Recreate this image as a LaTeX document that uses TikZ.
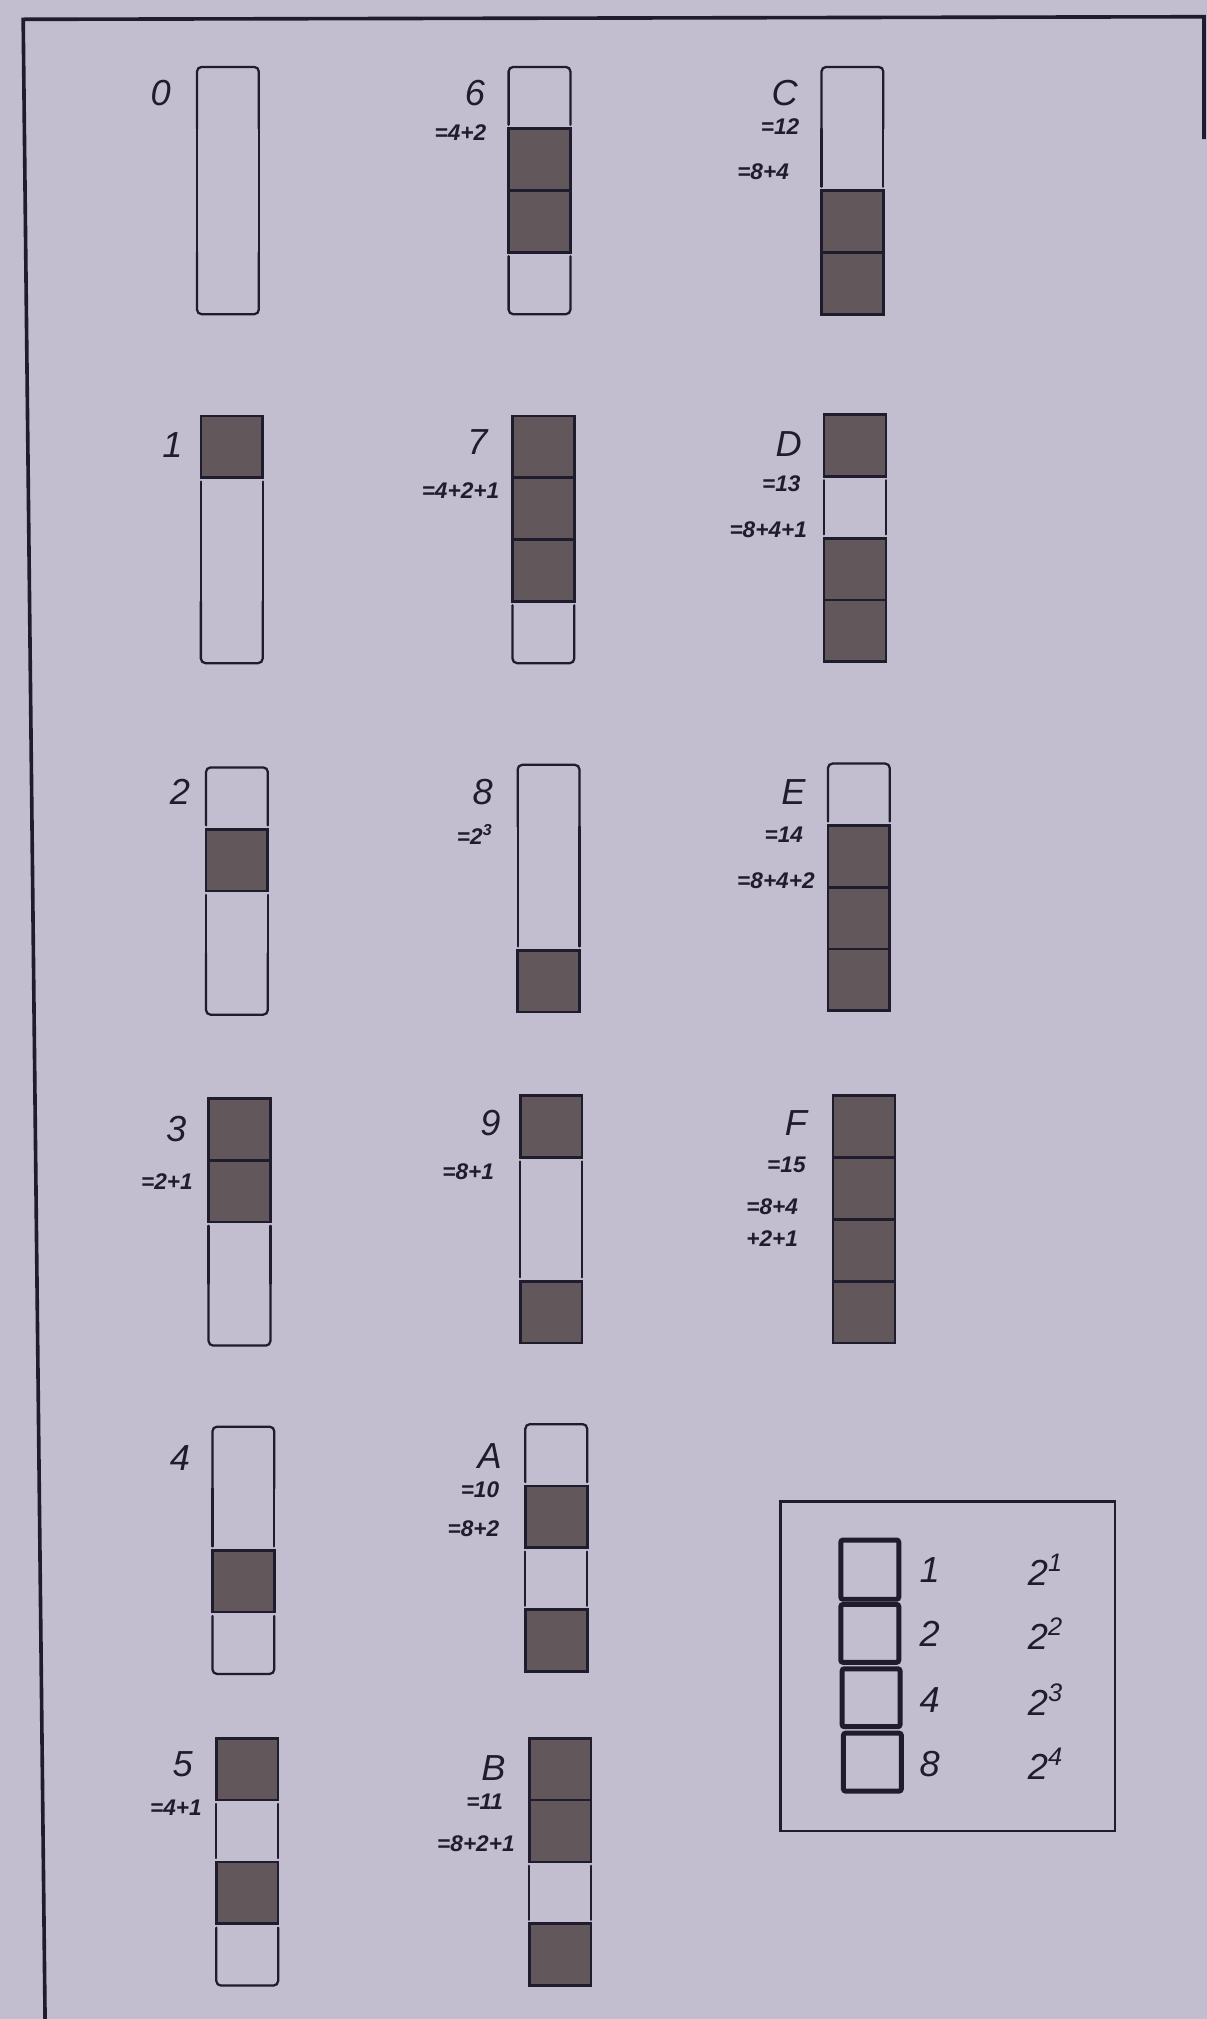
\documentclass[tikz,border=0pt]{standalone}
\usepackage{fontspec}
\setmainfont{Liberation Sans}
\usetikzlibrary{positioning}
\definecolor{paper}{HTML}{C2BECF}
\definecolor{ink}  {HTML}{1F1C2E}
\definecolor{grain}{HTML}{62585C}
\tikzset{
  frame/.style  = {draw=ink, line width=1.6pt},
  bitset/.style = {fill=grain, draw=ink, line width=1.2pt},
  bitoff/.style = {draw=ink, line width=1pt, rounded corners=2pt, line cap=round},
  digit/.style  = {font=\fontsize{16}{16}\selectfont\itshape, text=ink,
                   anchor=east, inner sep=0pt},
  sum/.style    = {font=\fontsize{10}{10}\selectfont\bfseries\itshape, text=ink,
                   anchor=east, inner sep=0pt},
  key/.style    = {draw=ink, line width=2.2pt, rounded corners=1pt},
  keytxt/.style = {font=\fontsize{16}{16}\selectfont\itshape, text=ink, inner sep=0pt},
}
\newcommand{\cellh}{48}
\newcommand{\cellw}{48}
\newcommand{\cellgap}{3}
% one cell of a bar: x, y of bar top, index, prev, this, next (2 = end of bar)
\newcommand{\bitcell}[6]{%
  \pgfmathsetmacro{\bya}{#2+#3*\cellh}%
  \pgfmathsetmacro{\byb}{\bya+\cellh}%
  \pgfmathsetmacro{\bxb}{#1+\cellw}%
  \ifnum#5=1
    \filldraw[bitset] (#1,\bya) rectangle (\bxb,\byb);
  \else
    \ifnum#4=1 \pgfmathsetmacro{\bys}{\bya+\cellgap}\else\let\bys\bya\fi
    \ifnum#6=1 \pgfmathsetmacro{\bye}{\byb-\cellgap}\else\let\bye\byb\fi
    \ifnum#4=2
      \draw[bitoff] (#1,\bye) -- (#1,\bya) -- (\bxb,\bya) -- (\bxb,\bye);
    \else\ifnum#6=2
      \draw[bitoff] (#1,\bys) -- (#1,\byb) -- (\bxb,\byb) -- (\bxb,\bys);
    \else
      \draw[bitoff] (#1,\bys) -- (#1,\bye) (\bxb,\bys) -- (\bxb,\bye);
    \fi\fi
  \fi}
% a bar of four cells: x, y, bits 1 2 4 8
\newcommand{\bitbar}[6]{%
  \bitcell{#1}{#2}{0}{2}{#3}{#4}
  \bitcell{#1}{#2}{1}{#3}{#4}{#5}
  \bitcell{#1}{#2}{2}{#4}{#5}{#6}
  \bitcell{#1}{#2}{3}{#5}{#6}{2}}

\begin{document}
\begin{tikzpicture}[x=0.02cm, y=-0.02cm]

  \fill[paper] (0,0) rectangle (937,1568);
  \useasboundingbox (0,0) rectangle (937,1568);

  % frame
  \draw[frame] (35,1568) -- (18,15) -- (935,13) -- (935,108);

  % first column
  \bitbar{153}{52}{0}{0}{0}{0}
  \node[digit] (l0) at (133,72) {0};
  \bitbar{156}{323}{1}{0}{0}{0}
  \node[digit] (l1) at (142,346) {1};
  \bitbar{160}{596}{0}{1}{0}{0}
  \node[digit] (l2) at (148,615) {2};
  \bitbar{162}{853}{1}{1}{0}{0}
  \node[digit] (l3) at (145,877) {3};
  \node[sum] (s3) at (150,918) {=2+1};
  \bitbar{165}{1108}{0}{0}{1}{0}
  \node[digit] (l4) at (148,1132) {4};
  \bitbar{168}{1350}{1}{0}{1}{0}
  \node[digit] (l5) at (150,1370) {5};
  \node[sum] (s5) at (157,1404) {=4+1};

  % second column
  \bitbar{395}{52}{0}{1}{1}{0}
  \node[digit] (l6) at (377,72) {6};
  \node[sum] (s6) at (378,103) {=4+2};
  \bitbar{398}{323}{1}{1}{1}{0}
  \node[digit] (l7) at (379,343) {7};
  \node[sum] (s7) at (388,381) {=4+2+1};
  \bitbar{402}{594}{0}{0}{0}{1}
  \node[digit] (l8) at (383,615) {8};
  \node[sum] (s8) at (383,648) {=2\textsuperscript{3}};
  \bitbar{404}{851}{1}{0}{0}{1}
  \node[digit] (l9) at (389,872) {9};
  \node[sum] (s9) at (384,910) {=8+1};
  \bitbar{408}{1106}{0}{1}{0}{1}
  \node[digit] (lA) at (390,1131) {A};
  \node[sum] (tA) at (388,1157) {=10};
  \node[sum] (sA) at (388,1187) {=8+2};
  \bitbar{411}{1350}{1}{1}{0}{1}
  \node[digit] (lB) at (393,1373) {B};
  \node[sum] (tB) at (391,1399) {=11};
  \node[sum] (sB) at (400,1432) {=8+2+1};

  % third column
  \bitbar{638}{52}{0}{0}{1}{1}
  \node[digit] (lC) at (620,72) {C};
  \node[sum] (tC) at (621,98) {=12};
  \node[sum] (sC) at (613,133) {=8+4};
  \bitbar{640}{322}{1}{0}{1}{1}
  \node[digit] (lD) at (623,345) {D};
  \node[sum] (tD) at (622,376) {=13};
  \node[sum] (sD) at (627,411) {=8+4+1};
  \bitbar{643}{593}{0}{1}{1}{1}
  \node[digit] (lE) at (626,615) {E};
  \node[sum] (tE) at (624,648) {=14};
  \node[sum] (sE) at (633,684) {=8+4+2};
  \bitbar{647}{851}{1}{1}{1}{1}
  \node[digit] (lF) at (627,872) {F};
  \node[sum] (tF) at (626,905) {=15};
  \node[sum] (sF) at (620,937) {=8+4};
  \node[sum] (uF) at (620,962) {+2+1};

  % key
  \draw[frame, line width=1.2pt] (606,1166) rectangle (866,1422);
  \draw[key] (653,1196) rectangle (698,1242);
  \draw[key] (653,1246) rectangle (698,1291);
  \draw[key] (654,1296) rectangle (699,1341);
  \draw[key] (655,1346) rectangle (700,1391);
  \node[keytxt] (k1) at (722,1219) {1};
  \node[keytxt] (k2) at (722,1269) {2};
  \node[keytxt] (k4) at (722,1320) {4};
  \node[keytxt] (k8) at (722,1370) {8};
  \node[keytxt] (p1) at (812,1219) {2\textsuperscript{1}};
  \node[keytxt] (p2) at (812,1269) {2\textsuperscript{2}};
  \node[keytxt] (p3) at (812,1320) {2\textsuperscript{3}};
  \node[keytxt] (p4) at (812,1370) {2\textsuperscript{4}};

\end{tikzpicture}
\end{document}
